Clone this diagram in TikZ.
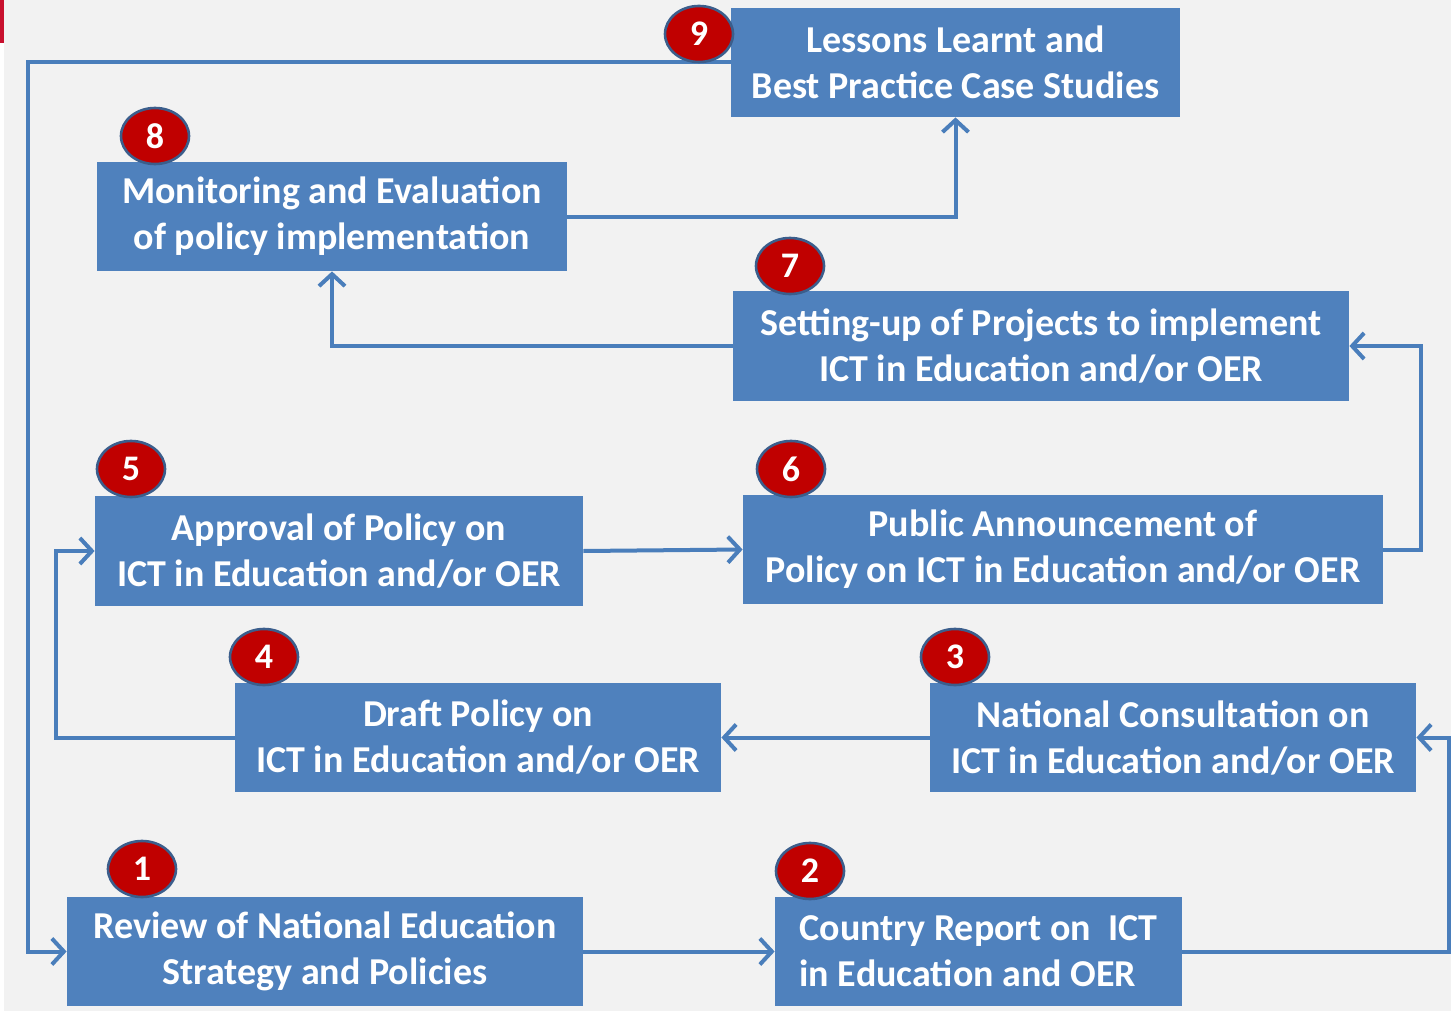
\documentclass[tikz,border=0pt]{standalone}
\usepackage{fontspec}
\setmainfont{Carlito}
\usetikzlibrary{arrows.meta,shapes.geometric}
\definecolor{stepblue}{HTML}{4F81BD}
\definecolor{linkblue}{HTML}{4A7EBB}
\definecolor{badgered}{HTML}{C00000}
\definecolor{badgerim}{HTML}{3B5E8C}
\definecolor{paper}{HTML}{F2F2F2}
\definecolor{tabred}{HTML}{C8102E}
\tikzset{%
  stagebox/.style = {rectangle, fill=stepblue, text=white, align=center,
    inner sep=0pt, font=\bfseries\fontsize{19}{23}\selectfont},
  badge/.style = {ellipse, fill=badgered, draw=badgerim,
    line width=1.3pt, text=white, inner sep=0pt,
    minimum width=34pt, minimum height=28pt,
    font=\bfseries\fontsize{18}{18}\selectfont},
  flow/.style = {draw=linkblue, line width=2pt,
    -{Straight Barb[length=6pt,width=13pt,line width=2pt]}}
}

\begin{document}
\begin{tikzpicture}[x=0.5pt,y=-0.5pt]
  % page
  \fill[paper] (0,0) rectangle (1451,1011);
  \useasboundingbox (0,0) rectangle (1451,1011);
  \fill[white] (0,43) rectangle (4,1011);
  \fill[tabred] (0,0) rectangle (4,43);

  % stages
  \node[stagebox, minimum width=224.5pt, minimum height=54.5pt] (s9) at (955.5,62.5)
    {Lessons Learnt and\\Best Practice Case Studies};
  \node[stagebox, minimum width=235pt, minimum height=54.5pt] (s8) at (332,216.5)
    {Monitoring and Evaluation\\of policy implementation};
  \node[stagebox, minimum width=308pt, minimum height=55pt] (s7) at (1041,346)
    {Setting-up of Projects to implement\\ICT in Education and/or OER};
  \node[stagebox, minimum width=244pt, minimum height=55pt] (s5) at (339,551)
    {Approval of Policy on\\ICT in Education and/or OER};
  \node[stagebox, minimum width=320pt, minimum height=54.5pt] (s6) at (1063,549.5)
    {Public Announcement of\\Policy on ICT in Education and/or OER};
  \node[stagebox, minimum width=243pt, minimum height=54.5pt] (s4) at (478,737.5)
    {Draft Policy on\\ICT in Education and/or OER};
  \node[stagebox, minimum width=243pt, minimum height=54.5pt] (s3) at (1173,737.5)
    {National Consultation on\\ICT in Education and/or OER};
  \node[stagebox, minimum width=258pt, minimum height=54.5pt] (s1) at (325,951.5)
    {Review of National Education\\Strategy and Policies};
  \node[stagebox, align=left, minimum width=203.5pt, minimum height=54.5pt] (s2) at (978.5,951.5)
    {Country Report on\ \ ICT\\in Education and OER};

  % links
  \draw[flow] (s1) -- (s2);
  \draw[flow] (s2.east) -- ++(267,0) |- (s3.east);
  \draw[flow] (s3) -- (s4);
  \draw[flow] (s4.west) -- ++(-179,0) |- (s5.west);
  \draw[flow] (s5.east) -- (s6.west);
  \draw[flow] (s6.east) -- ++(38,0) |- (s7.east);
  \draw[flow] (s7.west) -| (s8.south);
  \draw[flow] (s8.east) -| (s9.south);
  \draw[flow] (s9.west) -- ++(-703,0) |- (s1.west);

  % numbers
  \node[badge] (b1) at (142,869) {1};
  \node[badge] (b2) at (810,871) {2};
  \node[badge] (b3) at (955,657) {3};
  \node[badge] (b4) at (264,657) {4};
  \node[badge] (b5) at (131,469) {5};
  \node[badge] (b6) at (791,469) {6};
  \node[badge] (b7) at (790,266) {7};
  \node[badge] (b8) at (155,136) {8};
  \node[badge] (b9) at (699,34) {9};
\end{tikzpicture}
\end{document}
